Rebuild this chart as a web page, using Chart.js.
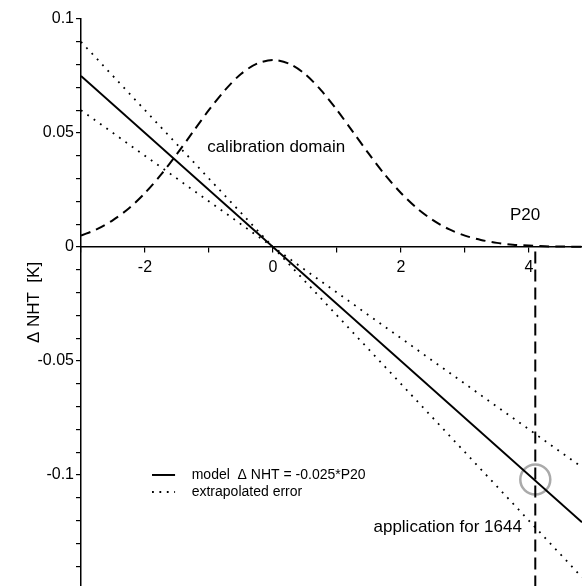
<!DOCTYPE html>
<html>
<head>
<meta charset="utf-8">
<script src="https://cdn.jsdelivr.net/npm/chart.js@4/dist/chart.umd.min.js"></script>
<style>
html,body{margin:0;padding:0;background:#fff;}
canvas{display:block;}
</style>
</head>
<body>
<canvas id="c" width="582" height="586"></canvas>
<script>
// ---- data ----
const xRange = [-3, 4.83];
const yRange = [-0.1487, 0.1];
const modelX = [-3, 4.83];
const modelY = [0.075, -0.12075];
const errUpperY = [0.09, -0.1449];   // error line, steeper
const errLowerY = [0.06, -0.0966];   // error line, shallower
const domainX = [-3,-2.75,-2.5,-2.25,-2,-1.75,-1.5,-1.25,-1,-0.75,-0.5,-0.25,0,0.25,0.5,0.75,1,1.25,1.5,1.75,2,2.25,2.5,2.75,3,3.25,3.5,3.75,4,4.25,4.5,4.83];
const domainY = [0.0050,0.0078,0.0118,0.0170,0.0237,0.0317,0.0408,0.0505,0.0601,0.0688,0.0759,0.0804,0.0820,0.0804,0.0759,0.0688,0.0601,0.0505,0.0408,0.0317,0.0237,0.0170,0.0118,0.0078,0.0050,0.0031,0.0018,0.0010,0.0006,0.0003,0.0002,0.0001];
const p20Value = 4.1;
const applicationY = -0.102;
const vlineY = [-0.002, -0.16];
const xTickValues = [-3, -2, -1, 0, 1, 2, 3, 4];
const xTickLabels = [-2, 0, 2, 4];
const yTickValues = [-0.14,-0.13,-0.12,-0.11,-0.1,-0.09,-0.08,-0.07,-0.06,-0.05,-0.04,-0.03,-0.02,-0.01,0,0.01,0.02,0.03,0.04,0.05,0.06,0.07,0.08,0.09,0.1];
const yTickLabels = [0.1, 0.05, 0, -0.05, -0.1];
const legendLabels = ['model  \u0394 NHT = -0.025*P20', 'extrapolated error'];

const pts = (xs, ys) => xs.map((x, i) => ({x, y: ys[i]}));

Chart.defaults.font.family = "'Liberation Sans', Arial, Helvetica, sans-serif";
Chart.defaults.color = '#000';

const annot = {
  id: 'annot',
  afterDatasetsDraw(chart) {
    const ctx = chart.ctx, xs = chart.scales.x, ys = chart.scales.y;
    ctx.save();
    ctx.fillStyle = '#000';
    ctx.textBaseline = 'middle';
    ctx.font = "17px 'Liberation Sans', Arial, sans-serif";
    ctx.textAlign = 'center';
    ctx.fillText('calibration domain', xs.getPixelForValue(0.05), ys.getPixelForValue(0.0439));
    ctx.fillText('P20', xs.getPixelForValue(3.94), ys.getPixelForValue(0.014));
    ctx.textAlign = 'right';
    ctx.fillText('application for 1644', xs.getPixelForValue(3.89), ys.getPixelForValue(-0.1228));
    // legend
    const lx0 = xs.getPixelForValue(-1.89), lx1 = xs.getPixelForValue(-1.53), tx = xs.getPixelForValue(-1.27);
    const ly = [ys.getPixelForValue(-0.1000), ys.getPixelForValue(-0.1075)];
    ctx.strokeStyle = '#000';
    ctx.lineWidth = 2;
    ctx.beginPath(); ctx.moveTo(lx0, ly[0]); ctx.lineTo(lx1, ly[0]); ctx.stroke();
    ctx.setLineDash([1.8, 5.6]);
    ctx.beginPath(); ctx.moveTo(lx0, ly[1]); ctx.lineTo(lx1, ly[1]); ctx.stroke();
    ctx.setLineDash([]);
    ctx.font = "14px 'Liberation Sans', Arial, sans-serif";
    ctx.textAlign = 'left';
    ctx.fillText(legendLabels[0], tx, ly[0]);
    ctx.fillText(legendLabels[1], tx, ly[1]);
    ctx.restore();
  }
};

const near = (arr, v) => arr.find(t => Math.abs(t - v) < 1e-9);

new Chart(document.getElementById('c'), {
  type: 'scatter',
  data: {
    datasets: [
      {data: pts(modelX, errUpperY), showLine: true, borderColor: '#000', borderWidth: 1.8, borderDash: [1.8, 6], pointRadius: 0},
      {data: pts(modelX, errLowerY), showLine: true, borderColor: '#000', borderWidth: 1.8, borderDash: [1.8, 6], pointRadius: 0},
      {data: pts(modelX, modelY), showLine: true, borderColor: '#000', borderWidth: 2, pointRadius: 0},
      {data: pts(domainX, domainY), showLine: true, borderColor: '#000', borderWidth: 2, borderDash: [10, 6], pointRadius: 0, tension: 0.3},
      {data: pts([p20Value, p20Value], vlineY), showLine: true, borderColor: '#000', borderWidth: 2, borderDash: [12, 6], pointRadius: 0},
      {data: [{x: p20Value, y: applicationY}], showLine: false, pointRadius: 15, pointBorderWidth: 2.5, pointBorderColor: '#aaaaaa', pointBackgroundColor: 'rgba(0,0,0,0)'}
    ]
  },
  options: {
    responsive: false,
    animation: false,
    events: [],
    layout: {autoPadding: false, padding: {top: 19, right: 0, bottom: 0, left: 0}},
    plugins: {legend: {display: false}, tooltip: {enabled: false}},
    scales: {
      x: {
        type: 'linear',
        position: {y: 0},
        min: xRange[0], max: xRange[1],
        border: {display: true, color: '#000', width: 1.5},
        grid: {display: true, drawOnChartArea: false, drawTicks: true, tickLength: 5, color: '#000', lineWidth: 1.2},
        afterBuildTicks: (s) => { s.ticks = xTickValues.map(v => ({value: v})); },
        afterFit: (s) => { s.height = 0; s.paddingLeft = 0; s.paddingRight = 0; s.paddingTop = 0; s.paddingBottom = 0; },
        ticks: {
          padding: 6, maxRotation: 0, minRotation: 0, autoSkip: false,
          font: {size: 16},
          callback: (v) => { const h = near(xTickLabels, v); return h !== undefined ? String(h) : ''; }
        }
      },
      y: {
        type: 'linear',
        position: 'left',
        min: yRange[0], max: yRange[1],
        border: {display: true, color: '#000', width: 1.5},
        grid: {display: true, drawOnChartArea: false, drawTicks: true, tickLength: 5, color: '#000', lineWidth: 1.2},
        afterBuildTicks: (s) => { s.ticks = yTickValues.map(v => ({value: v})); },
        afterFit: (s) => { s.width = 81; s.paddingTop = 0; s.paddingBottom = 0; },
        title: {display: true, text: '\u0394 NHT  [K]', font: {size: 17}, padding: {top: 24, bottom: 0}},
        ticks: {
          padding: 2, autoSkip: false,
          font: {size: 16},
          callback: (v) => { const h = near(yTickLabels, v); return h !== undefined ? String(h) : ''; }
        }
      }
    }
  },
  plugins: [annot]
});
</script>
</body>
</html>
